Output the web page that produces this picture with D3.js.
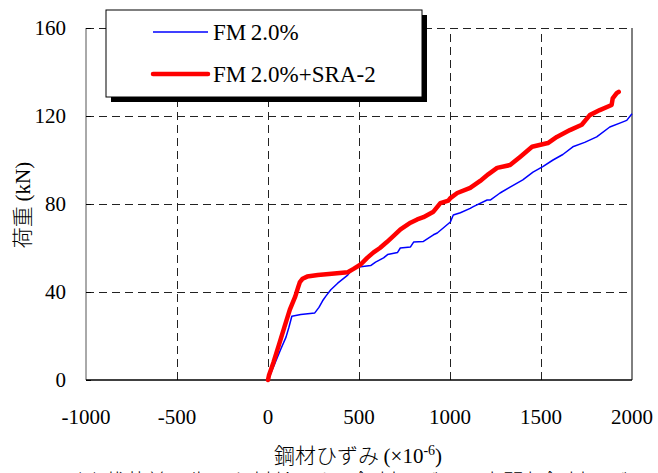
<!DOCTYPE html>
<html><head><meta charset="utf-8">
<script src="https://cdn.jsdelivr.net/npm/d3@7/dist/d3.min.js"></script>
<style>body{margin:0;background:#fff}svg{display:block}</style></head>
<body><svg id="c" width="658" height="473"></svg>
<script>
const xTicks = [-1000, -500, 0, 500, 1000, 1500, 2000];
const yTicks = [0, 40, 80, 120, 160];
const seriesNames = ["FM\u20092.0%", "FM\u20092.0%+SRA-2"];
const seriesColors = ["#0000ff", "#ff0000"];
const caption = "(a)  載荷前に生じた材齢による鋼材ひずみと中間部鋼材ひずみの関係を打";

const fmStrain = [0,20,45,70,99,115,131,180,257,280,300,317,345,383,438,471,520,564,591,635,657,712,727,783,800,854,909,930,1002,1018,1057,1111,1128,1204,1221,1275,1330,1400,1456,1510,1566,1620,1675,1740,1806,1878,1940,1971,2000];
const fmLoad   = [0,4,9,14,19.5,24,29,29.8,30.5,33,36,38,41,44,47.7,51,51.6,52,53.6,55.5,57,58,60,60.5,62.7,63,66,66.8,71.8,75,76,78,78.8,81.8,81.8,85,87.7,91,94.5,97,100,102.5,106,108,110.5,115,117,118,121];
const sraStrain = [0,5,30,60,90,120,150,165,175,190,215,274,350,438,470,509,545,580,615,653,690,728,783,820,854,909,947,991,1002,1040,1111,1166,1210,1259,1330,1385,1451,1538,1587,1659,1724,1768,1823,1888,1894,1916,1927];
const sraLoad   = [0,2,8,16,24,32,38,42,44.5,46,47,47.7,48.3,49,50.5,52.5,55.5,58,60,62.7,65.5,68.5,71.5,73,74,76.5,80.4,81.5,82.7,85,87.3,90.5,93.5,96.4,97.7,101.4,106,107.7,110.5,113.6,116,120.4,122.7,125,128,130.4,131];

const SF = '"Liberation Serif"';
const JP = '"Noto Sans CJK JP"';
const svg = d3.select("#c");
const L = 86, R = 632, T = 28, B = 380;
const x = d3.scaleLinear().domain([-1000, 2000]).range([L, R]);
const y = d3.scaleLinear().domain([0, 160]).range([B, T]);

// gridlines
const gx = svg.append("g").attr("transform", `translate(0,${B})`)
  .call(d3.axisBottom(x).tickValues(xTicks.slice(1, -1)).tickSize(-(B - T)).tickFormat(""));
gx.select(".domain").remove();
gx.selectAll("line").attr("stroke", "#222").attr("stroke-dasharray", "8,5");
const gy = svg.append("g").attr("transform", `translate(${L},0)`)
  .call(d3.axisLeft(y).tickValues(yTicks.slice(1)).tickSize(-(R - L)).tickFormat(""));
gy.select(".domain").remove();
gy.selectAll("line").attr("stroke", "#222").attr("stroke-dasharray", "8,5");

// frame
svg.append("line").attr("x1", L).attr("x2", L).attr("y1", T).attr("y2", B).attr("stroke", "#555").attr("stroke-width", 1);
svg.append("line").attr("x1", R).attr("x2", R).attr("y1", T).attr("y2", B).attr("stroke", "#000").attr("stroke-width", 1);
svg.append("line").attr("x1", L).attr("x2", R).attr("y1", B).attr("y2", B).attr("stroke", "#000").attr("stroke-width", 1.5);

// y ticks + labels
const ya = svg.append("g").attr("transform", `translate(${L},0)`)
  .call(d3.axisRight(y).tickValues(yTicks).tickSize(5).tickFormat(""));
ya.select(".domain").remove();
ya.selectAll("line").attr("stroke", "#000");
svg.append("g").selectAll("text").data(yTicks).join("text")
  .style("font-family", SF).style("font-size", "21px")
  .attr("x", 66).attr("y", d => y(d)).attr("dy", "0.33em")
  .attr("text-anchor", "end")
  .text(d => d);

// x labels
svg.append("g").selectAll("text").data(xTicks).join("text")
  .style("font-family", SF).style("font-size", "21px")
  .attr("x", d => x(d)).attr("y", 424)
  .attr("text-anchor", "middle")
  .text(d => d);

// series
const line = d3.line().x(d => x(d[0])).y(d => y(d[1]));
const fm = fmStrain.map((s, i) => [s, fmLoad[i]]);
const sra = sraStrain.map((s, i) => [s, sraLoad[i]]);
svg.append("path").datum(fm).attr("d", line).attr("fill", "none")
  .attr("stroke", seriesColors[0]).attr("stroke-width", 1.5).attr("stroke-linejoin", "round");
svg.append("path").datum(sra).attr("d", line).attr("fill", "none")
  .attr("stroke", seriesColors[1]).attr("stroke-width", 4.5).attr("stroke-linejoin", "round").attr("stroke-linecap", "round");

// legend
const lg = svg.append("g");
lg.append("rect").attr("x", 111).attr("y", 15).attr("width", 316).attr("height", 87).attr("fill", "#000");
lg.append("rect").attr("x", 106).attr("y", 10).attr("width", 316).attr("height", 87).attr("fill", "#fff").attr("stroke", "#000").attr("stroke-width", 1);
const ly = [32, 74];
seriesNames.forEach((n, i) => {
  lg.append("line").attr("x1", 153).attr("x2", 208).attr("y1", ly[i]).attr("y2", ly[i])
    .attr("stroke", seriesColors[i]).attr("stroke-width", i ? 4.5 : 1.5).attr("stroke-linecap", i ? "round" : "butt");
  lg.append("text").style("font-family", SF).style("font-size", "23px")
    .attr("x", 213).attr("y", ly[i]).attr("dy", "0.33em").text(n);
});

// axis titles
const xt = svg.append("text").attr("x", 358).attr("y", 463).attr("text-anchor", "middle")
  .style("font-family", SF).style("font-size", "21px");
xt.append("tspan").style("font-family", JP).style("font-weight", "300").text("鋼材ひずみ ");
xt.append("tspan").style("font-family", SF).text("(×10");
xt.append("tspan").style("font-family", SF).style("font-size", "14px").attr("dy", -8).text("-6");
xt.append("tspan").style("font-family", SF).attr("dy", 8).text(")");

const yt = svg.append("text").attr("transform", "translate(30,205) rotate(-90)")
  .attr("text-anchor", "middle").style("font-family", SF).style("font-size", "21px");
yt.append("tspan").style("font-family", JP).style("font-weight", "300").text("荷重 ");
yt.append("tspan").style("font-family", SF).text("(kN)");

// cut-off caption below the chart
svg.append("text").attr("x", 75).attr("y", 489)
  .style("font-family", JP).style("font-weight", "300").style("font-size", "21px")
  .text(caption);
</script></body></html>
